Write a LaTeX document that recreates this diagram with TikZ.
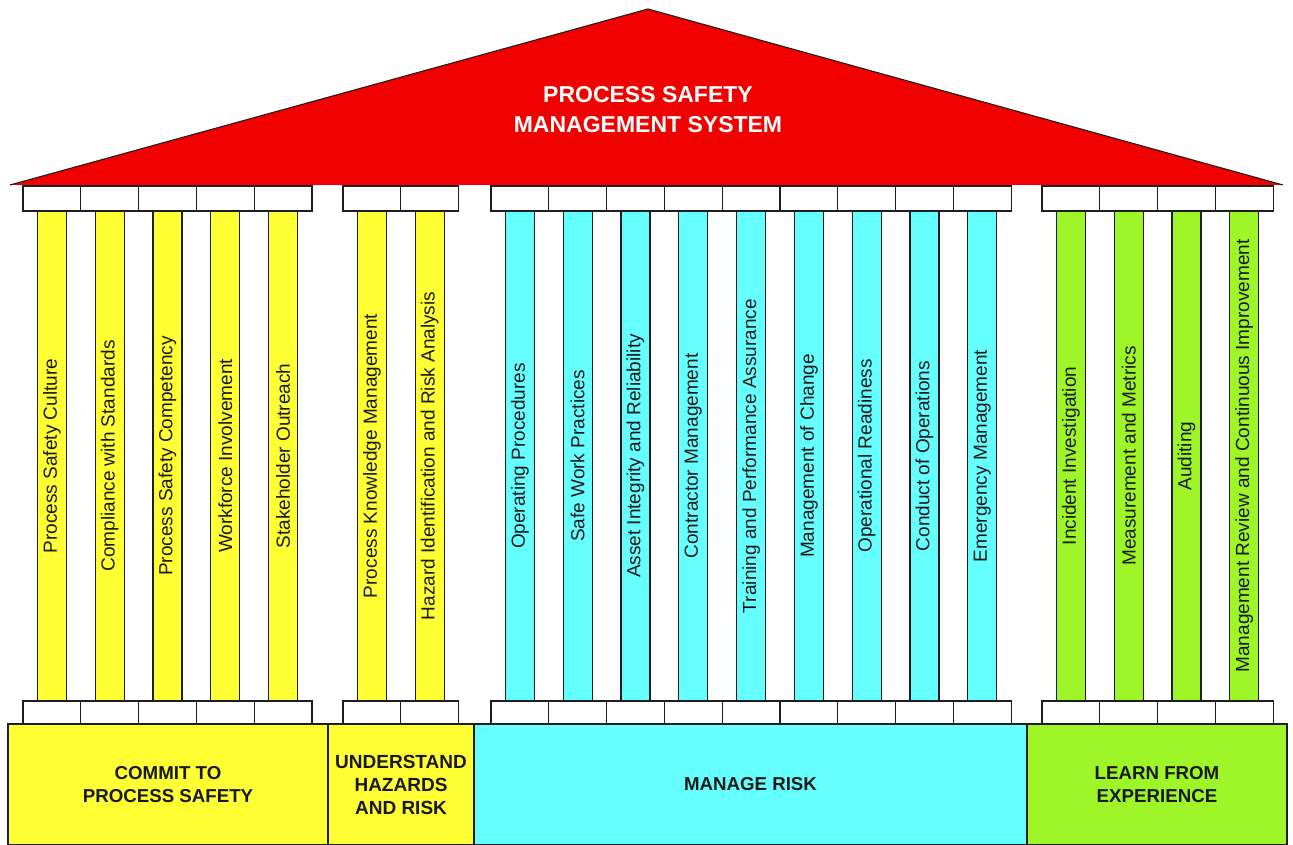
\documentclass[tikz,border=0pt]{standalone}
\usepackage{fontspec}
\setmainfont{Liberation Sans}
\definecolor{roofred}{RGB}{242,0,0}
\definecolor{pyellow}{RGB}{255,255,51}
\definecolor{pcyan}{RGB}{102,255,255}
\definecolor{pgreen}{RGB}{158,245,40}
\definecolor{edge}{RGB}{30,30,30}
\tikzset{
  capbox/.style={draw=edge, fill=white, line width=1.1pt, minimum width=57.8, minimum height=25, inner sep=0pt, outer sep=0pt},
  pillar/.style={draw=edge, line width=1.1pt, rotate=90, minimum width=490, minimum height=29, inner sep=0pt, outer sep=0pt, font=\fontsize{19}{19}\selectfont, text=black!90},
  basebox/.style={draw=edge, line width=1.1pt, anchor=north west, minimum height=121, inner sep=0pt, outer sep=0pt, align=center, font=\bfseries\fontsize{18.7}{22.5}\selectfont, text=black!90},
  titletext/.style={align=center, text=white, font=\bfseries\fontsize{23}{30}\selectfont}
}
\newcommand\pillargroup[4]{%
  \foreach \lab [count=\i] in {#4} {
    \pgfmathsetmacro\cx{#1+(\i-0.5)*57.8}
    \node[capbox] (tc-#3\i) at (\cx,198.5) {};
    \node[capbox, minimum height=23] (bc-#3\i) at (\cx,712.5) {};
    \node[pillar, fill=#2] (col-#3\i) at (\cx,456) {\lab};
  }}
\begin{document}
\begin{tikzpicture}[x=1pt,y=-1pt]
\useasboundingbox (0,0) rectangle (1293,845);
% roof
\coordinate (roofL) at (10,185);
\coordinate (roofT) at (648,9);
\coordinate (roofR) at (1283,185);
\fill[roofred] (roofL) -- (roofT) -- (roofR) -- cycle;
\draw[edge, line width=1.1pt, line join=round] (roofL) -- (roofT) -- (roofR);
\node[titletext] (title) at (648,110) {PROCESS SAFETY\\MANAGEMENT SYSTEM};
% bases
\node[basebox, fill=pyellow, minimum width=320] (b1) at (8,724) {COMMIT TO\\PROCESS SAFETY};
\node[basebox, fill=pyellow, minimum width=146, font=\bfseries\fontsize{19}{23}\selectfont] (b2) at (328,724) {UNDERSTAND\\HAZARDS\\AND RISK};
\node[basebox, fill=pcyan, minimum width=553] (b3) at (474,724) {MANAGE RISK};
\node[basebox, fill=pgreen, minimum width=260] (b4) at (1027,724) {LEARN FROM\\EXPERIENCE};
% pillars
\pillargroup{23}{pyellow}{a}{Process Safety Culture,Compliance with Standards,Process Safety Competency,Workforce Involvement,Stakeholder Outreach}
\pillargroup{343}{pyellow}{b}{Process Knowledge Management,Hazard Identification and Risk Analysis}
\pillargroup{491}{pcyan}{c}{Operating Procedures,Safe Work Practices,Asset Integrity and Reliability,Contractor Management,Training and Performance Assurance,Management of Change,Operational Readiness,Conduct of Operations,Emergency Management}
\pillargroup{1042}{pgreen}{d}{Incident Investigation,Measurement and Metrics,Auditing,Management Review and Continuous Improvement}
\end{tikzpicture}
\end{document}
